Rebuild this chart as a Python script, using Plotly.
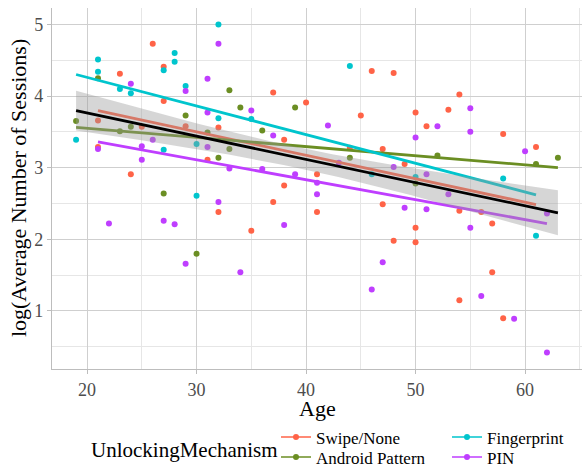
import numpy as np
import plotly.graph_objects as go

# ---------------- data ----------------
swipe_age = [26, 27, 23, 21, 21, 24, 27, 25, 29, 32, 31, 37, 38, 40, 41, 46, 48, 45, 44, 47, 49,
             50, 51, 53, 54, 58, 61, 38, 37, 32, 35, 41, 47, 50, 48, 50, 54, 56, 57, 57, 54, 58]
swipe_y = [4.73, 4.41, 4.31, 3.29, 3.66, 2.91, 3.93, 3.57, 3.58, 3.56, 3.11, 4.05, 3.39, 3.91, 2.91,
           4.35, 4.32, 3.73, 3.28, 3.26, 3.05, 3.77, 3.58, 3.81, 4.02, 3.47, 3.29, 2.75, 2.52, 2.38,
           2.12, 2.38, 2.49, 2.16, 1.98, 1.96, 2.40, 2.38, 2.22, 1.54, 1.15, 0.90]

android_age = [19, 21, 23, 24, 29, 31, 33, 34, 36, 39, 32, 33, 27, 30, 44, 50, 52, 61, 63]
android_y = [3.65, 4.25, 3.51, 3.57, 3.73, 3.49, 4.08, 3.84, 3.52, 3.84, 3.14, 3.26, 2.64, 1.80,
             3.14, 2.78, 3.17, 3.05, 3.14]

finger_age = [19, 21, 21, 23, 24, 28, 28, 27, 29, 32, 32, 27, 30, 30, 35, 44, 46, 50, 58, 61]
finger_y = [3.39, 4.51, 4.34, 4.10, 4.04, 4.60, 4.48, 4.36, 4.14, 5.00, 3.69, 3.25, 3.33, 2.61,
            3.68, 4.42, 2.91, 2.87, 2.85, 2.05]

pin_age = [24, 21, 25, 25, 26, 29, 31, 32, 31, 31, 33, 35, 36, 37, 39, 41, 41, 42, 43, 48, 50, 51,
           52, 53, 55, 55, 60, 22, 27, 28, 32, 38, 29, 34, 49, 51, 55, 47, 46, 56, 59, 62, 62]
pin_y = [4.17, 3.26, 3.30, 3.11, 3.39, 4.07, 4.24, 4.73, 3.77, 3.29, 2.99, 3.80, 2.98, 3.45, 2.91,
         2.79, 2.63, 3.59, 3.07, 3.01, 3.42, 2.91, 3.58, 2.63, 3.83, 3.50, 3.23, 2.22, 2.26, 2.21,
         2.52, 2.20, 1.66, 1.54, 2.44, 2.42, 2.16, 1.68, 1.30, 1.21, 0.89, 0.42, 2.36]

group_names = ["Swipe/None", "Android Pattern", "Fingerprint", "PIN"]
group_ages = [swipe_age, android_age, finger_age, pin_age]
group_vals = [swipe_y, android_y, finger_y, pin_y]
point_colors = ["#FF6347", "#6B8E23", "#00C5CD", "#BF3EFF"]
legend_ids = ["legend", "legend2", "legend3", "legend4"]

x_ticks = [20, 30, 40, 50, 60]
y_ticks = [1, 2, 3, 4, 5]

FONT = "Liberation Serif, Times New Roman, serif"

# ---------------- helpers ----------------
def lin_fit(x, y):
    x = np.asarray(x, float)
    y = np.asarray(y, float)
    b, a = np.polyfit(x, y, 1)
    return a, b

def t_quant(df, z=1.959963985):
    return z + (z**3 + z) / (4 * df) + (5 * z**5 + 16 * z**3 + 3 * z) / (96 * df**2)

fig = go.Figure()

# points
for name, xs, ys, col in zip(group_names, group_ages, group_vals, point_colors):
    fig.add_trace(go.Scatter(x=xs, y=ys, mode="markers", showlegend=False,
                             marker=dict(color=col, size=6, line=dict(width=0))))

# group regression lines
for name, xs, ys, col in zip(group_names, group_ages, group_vals, point_colors):
    a, b = lin_fit(xs, ys)
    gx = np.linspace(min(xs), max(xs), 50)
    fig.add_trace(go.Scatter(x=gx, y=a + b * gx, mode="lines", showlegend=False,
                             line=dict(color=col, width=2.8)))

# overall fit with confidence band
all_x = np.concatenate([np.asarray(v, float) for v in group_ages])
all_y = np.concatenate([np.asarray(v, float) for v in group_vals])
a, b = lin_fit(all_x, all_y)
n = len(all_x)
resid = all_y - (a + b * all_x)
s = np.sqrt(np.sum(resid**2) / (n - 2))
xbar = all_x.mean()
sxx = np.sum((all_x - xbar) ** 2)
ox = np.linspace(all_x.min(), all_x.max(), 80)
oy = a + b * ox
se = s * np.sqrt(1.0 / n + (ox - xbar) ** 2 / sxx)
tq = t_quant(n - 2)
upper = oy + tq * se
lower = oy - tq * se
fig.add_trace(go.Scatter(x=np.concatenate([ox, ox[::-1]]),
                         y=np.concatenate([upper, lower[::-1]]),
                         mode="lines", fill="toself", fillcolor="rgba(153,153,153,0.4)",
                         line=dict(width=0), hoverinfo="skip", showlegend=False))
fig.add_trace(go.Scatter(x=ox, y=oy, mode="lines", showlegend=False,
                         line=dict(color="black", width=2.8)))

# legend entries: one legend per entry, arranged in a 2x2 grid
for name, col, lg in zip(group_names, point_colors, legend_ids):
    fig.add_trace(go.Scatter(x=[None], y=[None], mode="lines+markers", name=name, legend=lg,
                             marker=dict(color=col, size=6),
                             line=dict(color=col, width=1.5)))

axis_common = dict(
    showline=True, linecolor="#bdbdbd", linewidth=1.2, mirror=False,
    ticks="outside", ticklen=4, tickcolor="#bdbdbd", tickwidth=1.2,
    showgrid=True, gridcolor="#cfcfcf", gridwidth=1.3, zeroline=False,
    tickfont=dict(family=FONT, size=18, color="#4d4d4d"),
)

legend_common = dict(orientation="v", yanchor="middle", xanchor="left", itemwidth=30,
                     font=dict(family=FONT, size=17, color="black"),
                     bgcolor="rgba(0,0,0,0)", tracegroupgap=0)
col1_x = (276 - 52) / 530
col2_x = (447 - 52) / 530
row1_y = (369 - 437.5) / 361
row2_y = (369 - 457.5) / 361

fig.update_layout(
    width=582, height=466,
    margin=dict(l=52, r=0, t=8, b=97, autoexpand=False),
    plot_bgcolor="white", paper_bgcolor="white",
    font=dict(family=FONT, color="black"),
    xaxis=dict(range=[16.8, 65.2], tickvals=x_ticks,
               minor=dict(tickvals=[15, 25, 35, 45, 55, 65], showgrid=True,
                          gridcolor="#e6e6e6", gridwidth=0.8, ticks=""),
               **axis_common),
    yaxis=dict(range=[0.19, 5.229], tickvals=y_ticks,
               minor=dict(tickvals=[0.5, 1.5, 2.5, 3.5, 4.5], showgrid=True,
                          gridcolor="#e6e6e6", gridwidth=0.8, ticks=""),
               **axis_common),
    legend=dict(x=col1_x, y=row1_y, **legend_common),
    legend2=dict(x=col1_x, y=row2_y, **legend_common),
    legend3=dict(x=col2_x, y=row1_y, **legend_common),
    legend4=dict(x=col2_x, y=row2_y, **legend_common),
    annotations=[
        dict(text="Age", xref="paper", yref="paper", x=0.5, y=-0.11, yanchor="middle",
             showarrow=False, font=dict(family=FONT, size=22, color="black")),
        dict(text="log(Average Number of Sessions)", xref="paper", yref="paper",
             x=-0.063, xanchor="center", y=0.5, yanchor="middle", textangle=-90,
             showarrow=False, font=dict(family=FONT, size=22, color="black")),
        dict(text="UnlockingMechanism", xref="paper", yref="paper",
             x=(184 - 52) / 530, xanchor="center", y=-0.224, yanchor="middle",
             showarrow=False, font=dict(family=FONT, size=21, color="black")),
    ],
)

fig.write_html("out.html", config={"displayModeBar": False},
               post_script="document.body.style.margin='0';document.body.style.overflow='hidden';")
